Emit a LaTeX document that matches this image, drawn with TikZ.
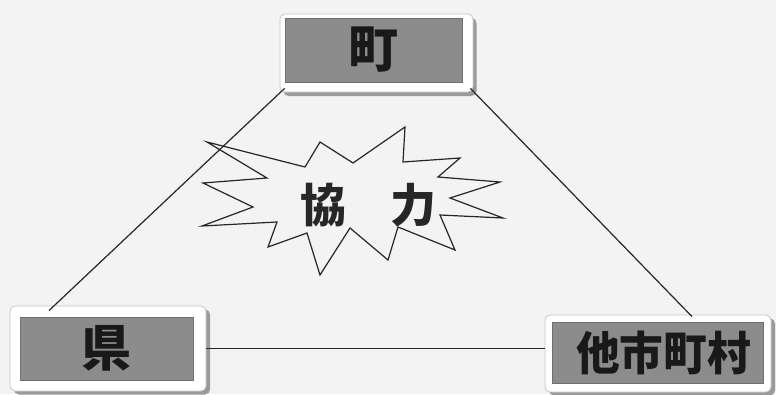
\documentclass[tikz,border=0pt]{standalone}
\usepackage{fontspec}
\newfontfamily\cjk{Noto Sans CJK JP}[BoldFont={Noto Sans CJK JP Black}]
\usetikzlibrary{calc}
\definecolor{paper}{HTML}{F3F3F3}
\definecolor{boxgray}{HTML}{8C8C8C}
\definecolor{shadowgray}{HTML}{9A9A9A}
\tikzset{
  frame/.style={draw=gray!45, line width=0.8pt, fill=white, rounded corners=5pt, inner sep=0pt},
  shadowbox/.style={fill=shadowgray, rounded corners=5pt, draw=none, inner sep=0pt},
  graybox/.style={fill=boxgray, draw=boxgray!80!black, line width=0.3pt, inner sep=0pt},
  label/.style={font=\cjk\bfseries\fontsize{50}{50}\selectfont, text=black!90, inner sep=0pt},
  burstlabel/.style={font=\cjk\bfseries\fontsize{46}{46}\selectfont, text=black!85, inner sep=0pt},
  link/.style={draw=black!85, line width=1.2pt},
  burst/.style={draw=black!85, line width=1.2pt, line join=miter}
}
\begin{document}
\begin{tikzpicture}[x=1pt,y=-1pt]
\useasboundingbox[fill=paper] (0,0) rectangle (776,394);
% frames with shadows
\node[shadowbox, minimum width=193pt, minimum height=78pt] at (380,57) {};
\node[frame, minimum width=193pt, minimum height=78pt] (machiF) at (376.5,53) {};
\node[shadowbox, minimum width=196pt, minimum height=85pt] at (112,352) {};
\node[frame, minimum width=196pt, minimum height=85pt] (kenF) at (108,348.5) {};
\node[shadowbox, minimum width=226pt, minimum height=77pt] at (662,357) {};
\node[frame, minimum width=226pt, minimum height=77pt] (taF) at (658,353.5) {};
% gray boxes
\node[graybox, minimum width=177pt, minimum height=64pt] (machi) at (373.5,50) {};
\node[graybox, minimum width=173pt, minimum height=63pt] (ken) at (106.5,348.5) {};
\node[graybox, minimum width=211pt, minimum height=61pt] (ta) at (657.5,352.5) {};
\node[label] at (machi) {町};
\node[label] at (ken) {県};
\node[label, font=\cjk\bfseries\fontsize{46}{46}\selectfont, xscale=0.95] at ($(ta)+(6,0)$) {他市町村};
% connectors
\coordinate (kenTop) at ($(kenF.north west)!0.2!(kenF.north east)$);
\coordinate (taTop) at ($(taF.north west)!0.65!(taF.north east)$);
\draw[link] ($(machiF.south west)+(5,-4)$) -- ($(kenTop)+(0,5)$);
\draw[link] ($(machiF.south east)+(-3,-4)$) -- ($(taTop)+(0,2)$);
\draw[link] (kenF.east |- ken) -- (taF.west |- ken);
% starburst
\draw[burst] (207,142) -- (305,167) -- (320,142) -- (353,163) -- (405,127)
  -- (403,162) -- (460,158) -- (438,177) -- (500,182) -- (450,198)
  -- (503,218) -- (440,215) -- (455,250) -- (398,227) -- (388,260)
  -- (350,228) -- (320,275) -- (307,233) -- (268,247) -- (277,222)
  -- (202,226) -- (253,207) -- (203,183) -- (267,178) -- cycle;
\node[burstlabel] (kyo) at (323,205) {協};
\node[burstlabel] (ryoku) at (413,205) {力};
\end{tikzpicture}
\end{document}
